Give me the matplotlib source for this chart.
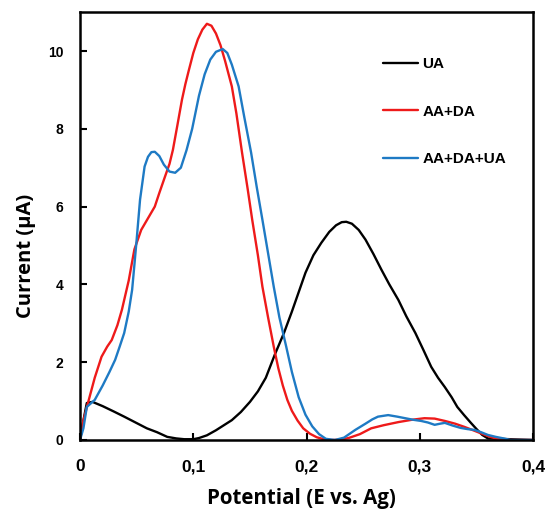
import matplotlib.pyplot as plt

# UA
ua_x = [0.000, 0.003, 0.006, 0.011, 0.020, 0.030, 0.039, 0.049, 0.059, 0.068,
        0.077, 0.085, 0.092, 0.100, 0.105, 0.112, 0.120, 0.127, 0.134, 0.142,
        0.150, 0.157, 0.164, 0.172, 0.180, 0.187, 0.193, 0.199, 0.206, 0.213,
        0.220, 0.226, 0.231, 0.235, 0.240, 0.246, 0.252, 0.259, 0.266, 0.273,
        0.281, 0.288, 0.296, 0.303, 0.310, 0.316, 0.322, 0.328, 0.333, 0.339,
        0.345, 0.350, 0.355, 0.360, 0.400]
ua_y = [0.00, 0.50, 0.95, 0.98, 0.87, 0.73, 0.60, 0.45, 0.30, 0.20,
        0.08, 0.04, 0.02, 0.02, 0.05, 0.12, 0.25, 0.38, 0.51, 0.72,
        0.98, 1.25, 1.60, 2.20, 2.75, 3.30, 3.80, 4.30, 4.75, 5.07,
        5.35, 5.52, 5.60, 5.61, 5.56, 5.40, 5.15, 4.78, 4.38, 4.00,
        3.60, 3.18, 2.75, 2.32, 1.88, 1.60, 1.36, 1.10, 0.85, 0.64,
        0.44, 0.28, 0.13, 0.04, 0.00]

# AA+DA
aada_x = [0.000, 0.003, 0.007, 0.013, 0.019, 0.024, 0.028, 0.033, 0.037, 0.043,
          0.048, 0.054, 0.060, 0.066, 0.070, 0.075, 0.079, 0.082, 0.086, 0.090,
          0.093, 0.096, 0.100, 0.104, 0.108, 0.112, 0.116, 0.120, 0.124, 0.128,
          0.134, 0.138, 0.143, 0.148, 0.152, 0.157, 0.161, 0.166, 0.171, 0.175,
          0.179, 0.183, 0.187, 0.192, 0.197, 0.203, 0.209, 0.215, 0.222, 0.230,
          0.237, 0.247, 0.257, 0.268, 0.281, 0.293, 0.304, 0.313, 0.322, 0.331,
          0.339, 0.347, 0.354, 0.361, 0.367, 0.373, 0.400]
aada_y = [0.00, 0.50, 0.95, 1.60, 2.14, 2.40, 2.57, 2.95, 3.35, 4.10,
          4.90, 5.40, 5.70, 6.00, 6.35, 6.77, 7.10, 7.46, 8.10, 8.75,
          9.15, 9.50, 9.95, 10.30, 10.55, 10.70, 10.65, 10.45, 10.15, 9.75,
          9.09, 8.40, 7.39, 6.45, 5.66, 4.75, 3.94, 3.15, 2.40, 1.85,
          1.40, 1.03, 0.75, 0.50, 0.30, 0.16, 0.07, 0.02, 0.00, 0.01,
          0.05, 0.15, 0.30, 0.38, 0.46, 0.52, 0.56, 0.55, 0.49, 0.42,
          0.34, 0.25, 0.17, 0.09, 0.04, 0.00, 0.00]

# AA+DA+UA
mix_x = [0.000, 0.003, 0.006, 0.013, 0.020, 0.026, 0.031, 0.035, 0.039, 0.043,
         0.046, 0.048, 0.050, 0.053, 0.057, 0.060, 0.063, 0.066, 0.070, 0.074,
         0.079, 0.084, 0.089, 0.094, 0.099, 0.105, 0.110, 0.115, 0.120, 0.126,
         0.130, 0.134, 0.140, 0.145, 0.151, 0.156, 0.161, 0.166, 0.171, 0.176,
         0.182, 0.187, 0.193, 0.199, 0.205, 0.211, 0.217, 0.225, 0.233, 0.243,
         0.252, 0.258, 0.263, 0.272, 0.280, 0.287, 0.294, 0.301, 0.307, 0.313,
         0.318, 0.322, 0.329, 0.336, 0.342, 0.348, 0.354, 0.360, 0.367, 0.374,
         0.380, 0.400]
mix_y = [0.00, 0.30, 0.85, 1.03, 1.40, 1.75, 2.06, 2.40, 2.75, 3.30,
         3.86, 4.50, 5.15, 6.18, 7.03, 7.28, 7.40, 7.41, 7.30, 7.08,
         6.90, 6.87, 7.00, 7.45, 8.00, 8.85, 9.40, 9.78, 9.98, 10.05,
         9.95, 9.65, 9.09, 8.30, 7.39, 6.50, 5.66, 4.80, 3.94, 3.15,
         2.40, 1.75, 1.10, 0.65, 0.35, 0.15, 0.03, 0.00, 0.06, 0.26,
         0.42, 0.53, 0.60, 0.64, 0.60, 0.56, 0.52, 0.49, 0.45, 0.39,
         0.42, 0.44, 0.37, 0.31, 0.28, 0.26, 0.20, 0.13, 0.08, 0.04,
         0.00, 0.00]

x_ticks = [0, 0.1, 0.2, 0.3, 0.4]
x_tick_labels = ['0', '0,1', '0,2', '0,3', '0,4']
y_ticks = [0, 2, 4, 6, 8, 10]

fig = plt.figure(figsize=(5.48, 5.18), dpi=100)
ax = fig.add_axes([0.146, 0.1506, 0.827, 0.826])

line_kw = dict(lw=1.7, solid_joinstyle='round', solid_capstyle='round')
ax.plot(ua_x, ua_y, color='black', label='UA', **line_kw)
ax.plot(aada_x, aada_y, color='#ee1a1a', label='AA+DA', **line_kw)
ax.plot(mix_x, mix_y, color='#1e7ac4', label='AA+DA+UA', **line_kw)

ax.set_xlim(0, 0.4)
ax.set_ylim(0, 11)
ax.set_xticks(x_ticks)
ax.set_xticklabels(x_tick_labels)
ax.set_yticks(y_ticks)
for lbl in ax.get_xticklabels() + ax.get_yticklabels():
    lbl.set_fontfamily('Liberation Sans')
    lbl.set_fontweight('bold')
ax.tick_params(axis='x', direction='in', length=5, width=1.5, labelsize=12.5, pad=14)
ax.tick_params(axis='y', direction='in', length=5, width=1.5, labelsize=10, pad=12)
for sp in ax.spines.values():
    sp.set_linewidth(1.8)

ax.set_xlabel('Potential (E vs. Ag)', fontfamily='Open Sans', fontweight='bold', fontsize=14.8)
ax.set_ylabel('Current (µA)', fontfamily='Open Sans', fontweight='bold', fontsize=14.5)
ax.xaxis.set_label_coords(0.489, -0.112)
ax.yaxis.set_label_coords(-0.097, 0.43)

ax.legend(loc='upper left', bbox_to_anchor=(0.669, 0.895), frameon=False,
          handlelength=2.3, handletextpad=0.25, labelspacing=2.2,
          borderpad=0, borderaxespad=0,
          prop={'family': 'Liberation Sans', 'weight': 'bold', 'size': 11})

fig.savefig('out.png', dpi=100)
